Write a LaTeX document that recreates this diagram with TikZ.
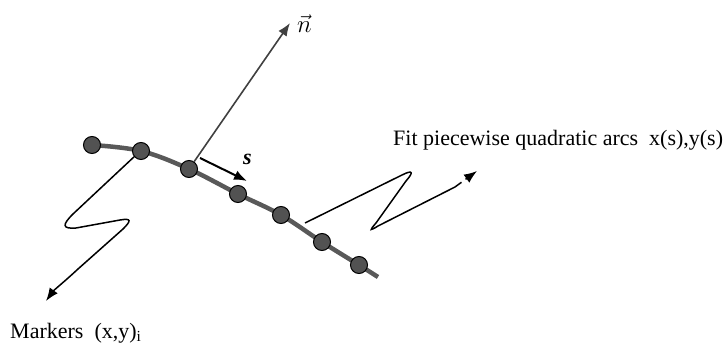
\documentclass[tikz,border=0pt]{standalone}
\usepackage{fontspec}
\setmainfont{Liberation Serif}
\usetikzlibrary{arrows.meta}
\begin{document}
\begin{tikzpicture}[x=1pt,y=-1pt,
  marker/.style={circle,draw=black,line width=1pt,fill=black!68,minimum size=17pt,inner sep=0pt},
  curveline/.style={draw=black!65,line width=4.5pt},
  wavy/.style={draw=black,line width=1.5pt},
  lbl/.style={font=\fontsize{22}{26}\selectfont,inner sep=0pt},
  tip/.style={-{Latex[length=13pt,width=10pt]}}
]
\useasboundingbox (0,0) rectangle (725,352);
% curve
\draw[curveline] plot[smooth,tension=0.6] coordinates {(92,145) (141,151) (189,169) (238,194) (281,215) (322,242) (359,265) (378,277)};
% markers
\node[marker] (m1) at (92,145) {};
\node[marker] (m2) at (141,151) {};
\node[marker] (m3) at (189,169) {};
\node[marker] (m4) at (238,194) {};
\node[marker] (m5) at (281,215) {};
\node[marker] (m6) at (322,242) {};
\node[marker] (m7) at (359,265) {};
% normal
\coordinate (ntip) at (290,23);
\draw[draw=black!75,line width=1.6pt,tip] (m3.55) -- (ntip);
\node[lbl,anchor=base west,font=\fontsize{26}{30}\selectfont] (nlab) at (297,33) {$\vec{n}$};
% tangent s
\coordinate (s0) at (200,158);
\coordinate (s1) at (247,181);
\draw[black,line width=2pt,tip] (s0) -- (s1);
\node[lbl,anchor=base west] (slab) at (243,165) {\textbf{\textit{s}}};
% left wavy connector
\coordinate (lend) at (46,301);
\draw[wavy,tip] (m2.220) -- (73,214) .. controls (62,225) and (62,229) .. (76,228)
  -- (120,220) .. controls (132,218) and (131,221) .. (123,229)
  -- (78,269) .. controls (64,282) and (54,290) .. (lend);
% right wavy connector
\coordinate (rstart) at (305,223);
\coordinate (rmid) at (455,187);
\coordinate (rend) at (477,171);
\draw[wavy] (rstart) -- (402,175) .. controls (414,169) and (413,173) .. (406,181)
  -- (376,223) .. controls (369,231) and (370,231) .. (378,226) -- (rmid);
\draw[wavy,dash pattern=on 8pt off 5pt,tip] (rmid) -- (rend);
% labels
\node[lbl,anchor=base west] (fit) at (393,146) {Fit piecewise quadratic arcs\ \ x(s),y(s)};
\node[lbl,anchor=base west] (mk) at (10,338) {Markers\ \ (x,y)\textsubscript{i}};
\end{tikzpicture}
\end{document}
